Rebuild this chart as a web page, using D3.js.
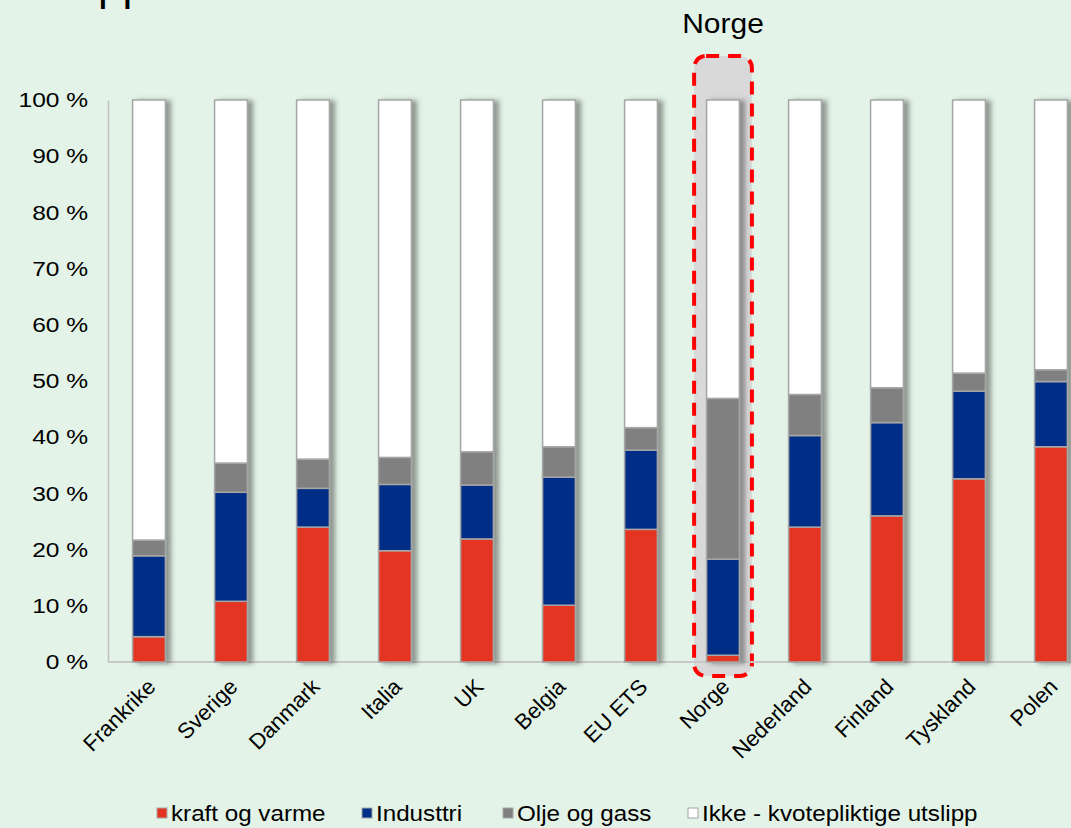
<!DOCTYPE html>
<html>
<head>
<meta charset="utf-8">
<script src="https://cdn.jsdelivr.net/npm/d3@7"></script>
<style>
  body { margin: 0; background: #e3f3e7; }
  svg { display: block; font-family: Arial, "Liberation Sans", sans-serif; }
</style>
</head>
<body>
<svg id="chart" width="1071" height="828"></svg>
<script>
const countries = ['Frankrike', 'Sverige', 'Danmark', 'Italia', 'UK', 'Belgia', 'EU ETS', 'Norge', 'Nederland', 'Finland', 'Tyskland', 'Polen'];
const kraft    = [4.5, 10.8, 24.0, 19.8, 21.9, 10.1, 23.6, 1.2, 24.0, 26.0, 32.6, 38.3];
const industri = [14.4, 19.4, 6.9, 11.8, 9.6, 22.8, 14.1, 17.1, 16.3, 16.6, 15.6, 11.6];
const olje     = [2.8, 5.2, 5.2, 4.8, 5.9, 5.4, 4.0, 28.6, 7.3, 6.2, 3.2, 2.1];
const ikke     = [78.3, 64.6, 63.9, 63.6, 62.6, 61.7, 58.3, 53.1, 52.4, 51.2, 48.6, 48.0];
const seriesNames = ['kraft og varme', 'Industtri', 'Olje og gass', 'Ikke - kvotepliktige utslipp'];
const yTicks = [0, 10, 20, 30, 40, 50, 60, 70, 80, 90, 100];
const highlight = 'Norge';

const COLORS = ['#e33422', '#002f87', '#808080', '#ffffff'];
const keys = ['kraft', 'industri', 'olje', 'ikke'];
const MARGIN = { top: 100, left: 108, bottom: 166 };
const W = 1071, H = 828;
const STEP = 82;
const STRETCH = 1.17; // text in the original is a bit wider than Arial

const svg = d3.select('#chart');

// data table for the stack
const table = countries.map((c, i) => ({
  country: c, kraft: kraft[i], industri: industri[i], olje: olje[i], ikke: ikke[i]
}));

const x = d3.scaleBand()
  .domain(countries)
  .range([MARGIN.left, MARGIN.left + STEP * countries.length])
  .paddingInner(0.6)
  .paddingOuter(0.3);

const y = d3.scaleLinear()
  .domain([0, 100])
  .range([H - MARGIN.bottom, MARGIN.top]);

const defs = svg.append('defs');
const shadow = defs.append('filter').attr('id', 'shadow')
  .attr('x', '-20%').attr('y', '-5%').attr('width', '160%').attr('height', '110%');
shadow.append('feDropShadow')
  .attr('dx', 5).attr('dy', 1).attr('stdDeviation', 2.5)
  .attr('flood-color', '#4a4a4a').attr('flood-opacity', 0.55);

// clipped title (only descenders show)
svg.append('text')
  .attr('x', 147).attr('y', 0)
  .attr('text-anchor', 'end')
  .attr('font-size', 44)
  .attr('fill', '#000')
  .text('utslipp');

// highlight box behind Norge
const hx = x(highlight);
svg.append('rect')
  .attr('x', hx - 12.5)
  .attr('y', 56)
  .attr('width', x.bandwidth() + 25)
  .attr('height', 620)
  .attr('rx', 12)
  .attr('fill', '#d9d9d9')
  .attr('stroke', '#ff0000')
  .attr('stroke-width', 4)
  .attr('stroke-dasharray', '13 9');

svg.append('text')
  .attr('transform', `translate(${hx + x.bandwidth() / 2},33) scale(1.11,1)`)
  .attr('text-anchor', 'middle')
  .attr('font-size', 27)
  .text(highlight);

// axes
const axisY = d3.axisLeft(y)
  .tickValues(yTicks)
  .tickSize(0)
  .tickPadding(17)
  .tickFormat(d => d + ' %');

const gy = svg.append('g')
  .attr('transform', `translate(${MARGIN.left},0)`)
  .call(axisY);
gy.select('.domain').attr('stroke', '#c0c0c0').attr('stroke-width', 1.5);
gy.selectAll('text')
  .attr('font-size', 21)
  .attr('fill', '#000')
  .attr('font-family', 'Arial, "Liberation Sans", sans-serif')
  .attr('transform', `scale(${STRETCH},1)`);

svg.append('line')
  .attr('x1', MARGIN.left).attr('x2', W)
  .attr('y1', y(0)).attr('y2', y(0))
  .attr('stroke', '#c8c8c8').attr('stroke-width', 2);

// bars
const stack = d3.stack().keys(keys)(table);

const gBars = svg.append('g').attr('class', 'bars');
const gCountry = gBars.selectAll('g.country')
  .data(table)
  .join('g')
  .attr('class', 'country')
  .attr('filter', 'url(#shadow)');

gCountry.each(function (d, i) {
  d3.select(this).selectAll('rect')
    .data(stack.map((s, k) => ({ seg: s[i], k })))
    .join('rect')
    .attr('x', x(d.country))
    .attr('width', x.bandwidth())
    .attr('y', s => y(s.seg[1]))
    .attr('height', s => y(s.seg[0]) - y(s.seg[1]))
    .attr('fill', s => COLORS[s.k])
    .attr('stroke', '#a6a6a6')
    .attr('stroke-width', 1.5);
});

// x labels
const axisX = d3.axisBottom(x).tickSize(0).tickPadding(0);
const gx = svg.append('g')
  .attr('transform', `translate(0,${y(0)})`)
  .call(axisX);
gx.select('.domain').remove();
gx.selectAll('text')
  .attr('font-size', 22)
  .attr('fill', '#000')
  .attr('font-family', 'Arial, "Liberation Sans", sans-serif')
  .attr('text-anchor', 'end')
  .attr('dy', 0)
  .attr('y', 0)
  .attr('transform', 'translate(8,26) rotate(-45)');

// legend
const legendX = [157, 362, 503, 688];
const gLeg = svg.append('g').attr('transform', `translate(0,813)`);
const item = gLeg.selectAll('g')
  .data(seriesNames)
  .join('g')
  .attr('transform', (d, i) => `translate(${legendX[i]},0)`);
item.append('rect')
  .attr('x', 0).attr('y', -5)
  .attr('width', 10).attr('height', 10)
  .attr('fill', (d, i) => COLORS[i])
  .attr('stroke', '#a6a6a6').attr('stroke-width', 1);
item.append('text')
  .attr('transform', 'translate(14,8) scale(1.1,1)')
  .attr('font-size', 22)
  .text(d => d);
</script>
</body>
</html>
